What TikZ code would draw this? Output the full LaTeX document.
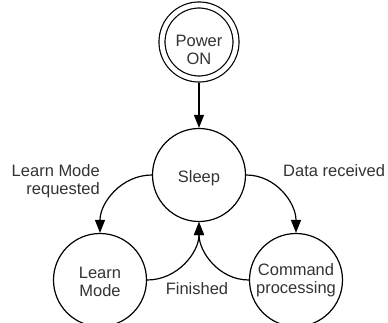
\documentclass[tikz,border=0pt]{standalone}
\usepackage{fontspec}
\setmainfont{Liberation Sans}
\usetikzlibrary{arrows.meta}
\definecolor{txt}{RGB}{51,51,51}
\begin{document}
\begin{tikzpicture}[x=1pt,y=-1pt,
  every node/.style={font=\fontsize{16.5}{18}\selectfont, text=txt},
  state/.style={circle, draw=black, line width=1.2pt, inner sep=0pt,
                minimum size=93pt},
  startstate/.style={circle, draw=black, line width=1.2pt, inner sep=0pt,
                minimum size=74pt, double, double distance=4.8pt,
                outer sep=3.6pt},
  intext/.style={align=center, inner sep=0pt},
  arr/.style={line width=1.2pt, -{Triangle[length=13pt,width=10pt]}},
  lbl/.style={inner sep=0pt}
]
\useasboundingbox (0,0) rectangle (388,323);

% states, each with its caption set inside the circle
\node[startstate, label={[intext, yshift=-8pt]center:{Power\\ON}}] (power) at (199,42) {};
\node[state, label={[intext, yshift=-3pt]center:{Sleep}}] (sleep) at (199,175) {};
\node[state, label={[intext, yshift=-2pt]center:{Learn\\Mode}}] (learn) at (100,280) {};
\node[state, label={[intext]center:{Command\\processing}}] (cmd) at (296,280) {};

% transition captions
\node[lbl, align=right, anchor=east] (lreq) at (100,181.5) {Learn Mode\\requested};
\node[lbl, anchor=west] (drec) at (283,171) {Data received};
\node[lbl] (fin) at (197,289) {Finished};

% transitions
\draw[arr] (power.south) -- (sleep.north);
\draw[arr] (sleep.west) to[out=180,in=90] (learn.north);
\draw[arr] (sleep.east) to[out=0,in=90] (cmd.north);
\draw[arr] (learn.east) to[out=0,in=-90] (sleep.south);
\draw[arr] (cmd.west) to[out=180,in=-90] (sleep.south);
\end{tikzpicture}
\end{document}
